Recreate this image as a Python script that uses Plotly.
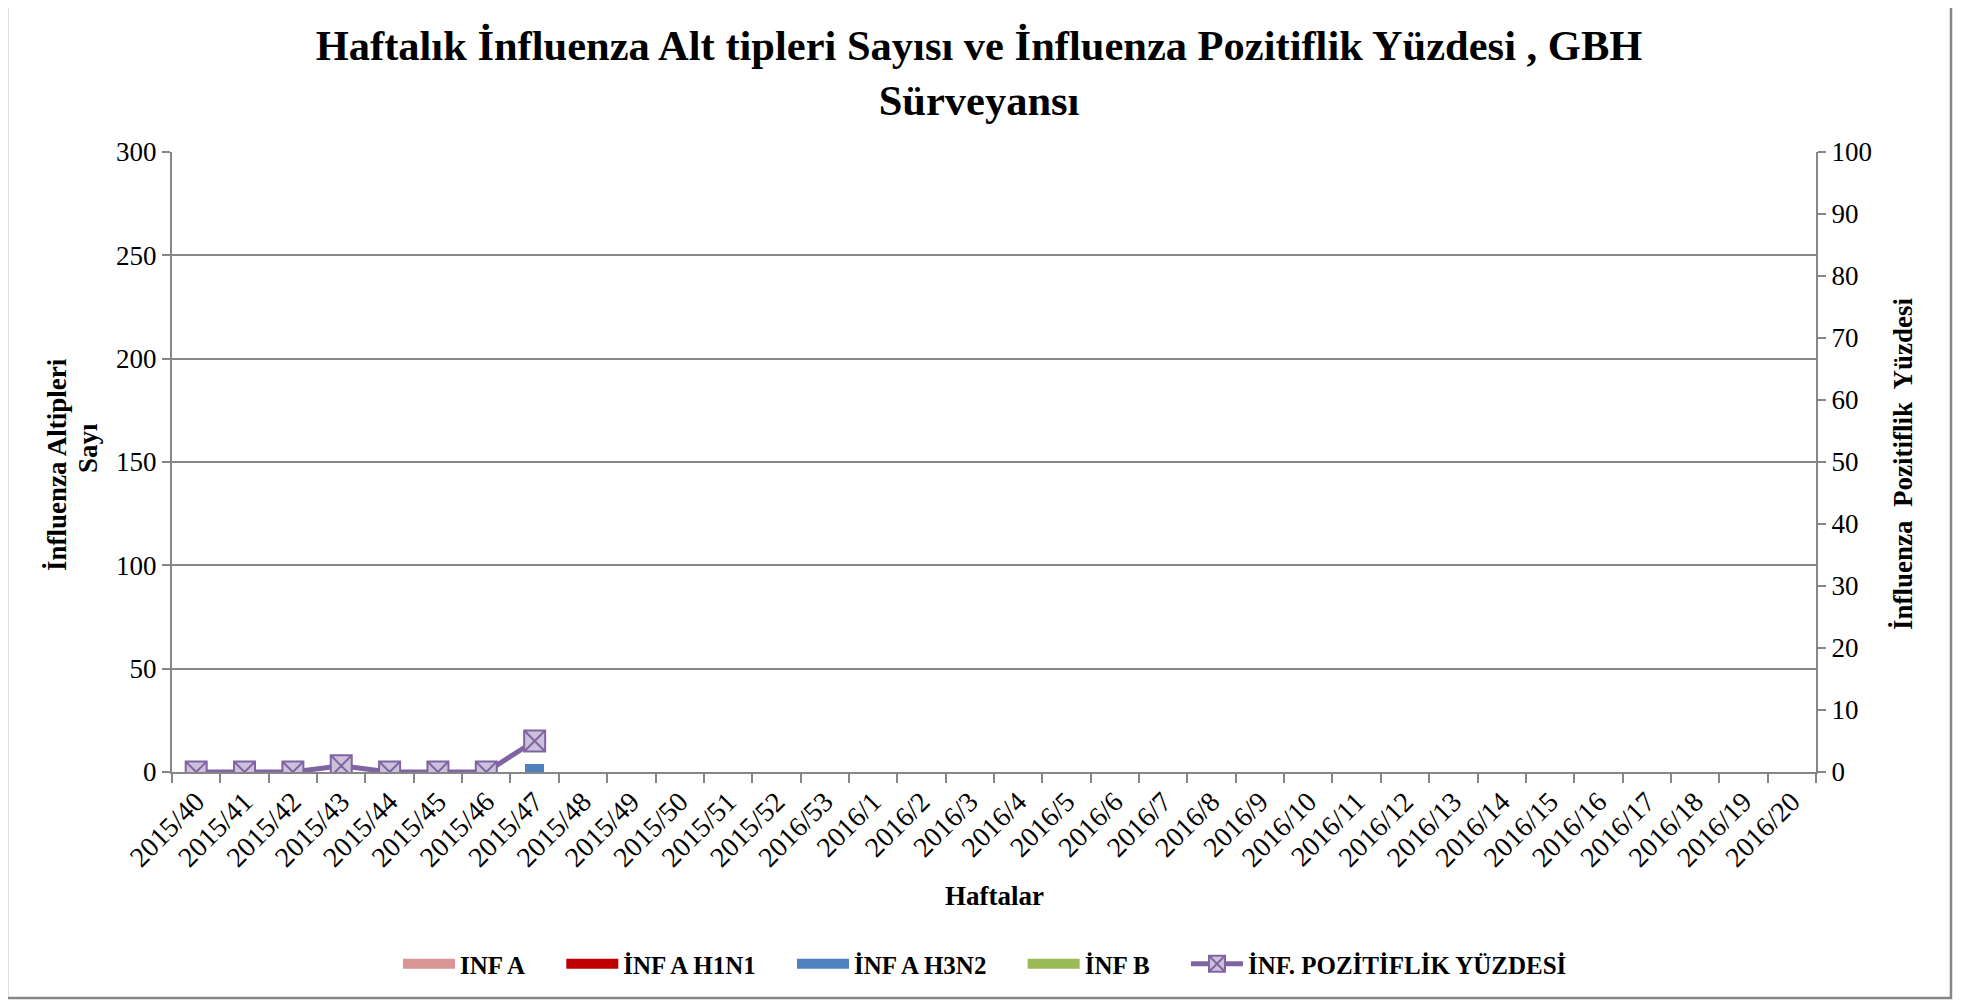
import plotly.graph_objects as go

weeks = ["2015/40", "2015/41", "2015/42", "2015/43", "2015/44", "2015/45", "2015/46", "2015/47",
         "2015/48", "2015/49", "2015/50", "2015/51", "2015/52", "2016/53",
         "2016/1", "2016/2", "2016/3", "2016/4", "2016/5", "2016/6", "2016/7", "2016/8", "2016/9",
         "2016/10", "2016/11", "2016/12", "2016/13", "2016/14", "2016/15", "2016/16", "2016/17",
         "2016/18", "2016/19", "2016/20"]

inf_a = [0, 0, 0, 0, 0, 0, 0, 0]
inf_a_h1n1 = [0, 0, 0, 0, 0, 0, 0, 0]
inf_a_h3n2 = [0, 0, 0, 0, 0, 0, 0, 4]
inf_b = [0, 0, 0, 0, 0, 0, 0, 0]
pozitiflik = [0, 0, 0, 1, 0, 0, 0, 5]

FONT = "Liberation Serif"
GRAY = "#868686"
NB = "\u00a0"

def pad(vals):
    return vals + [None] * (len(weeks) - len(vals))

# page body has an 8px margin: convert screen pixel targets to figure pixels
OFF = 8
W, H = 1973 - OFF, 1000 - OFF
L, R, T, B = 172 - OFF, 1816 - OFF, 152 - OFF, 772 - OFF
pw, ph = R - L, B - T

def px(x):
    return (x - OFF - L) / pw

def py(y):
    return (B - (y - OFF)) / ph

fig = go.Figure()
bar_specs = [
    ("INF A", inf_a, "#D99694"),
    ("İNF A H1N1", inf_a_h1n1, "#C00000"),
    ("İNF A H3N2", inf_a_h3n2, "#4F81BD"),
    ("İNF B", inf_b, "#9BBB59"),
]
for i, (name, vals, color) in enumerate(bar_specs):
    grp = "g%d" % i
    fig.add_trace(go.Bar(x=weeks, y=pad(vals), name=name, marker_color=color,
                         marker_line_width=0, width=0.4, showlegend=False,
                         legendgroup=grp))
    # legend swatch drawn as a wide rectangle, like the original
    fig.add_trace(go.Scatter(x=[None], y=[None], mode="lines", name="<b>" + name + "</b>" + NB * 5,
                             line=dict(color=color, width=11), legendgroup=grp,
                             hoverinfo="skip"))

fig.add_trace(go.Scatter(
    x=weeks, y=pad(pozitiflik), name="<b>İNF. POZİTİFLİK YÜZDESİ</b>", yaxis="y2",
    mode="lines+markers",
    line=dict(color="#8064A2", width=5),
    marker=dict(symbol="square-x", size=21, color="#CCC1DA",
                line=dict(color="#8064A2", width=2)),
))

fig.update_layout(
    width=W, height=H,
    margin=dict(l=L, r=W - R, t=T, b=H - B, autoexpand=False),
    paper_bgcolor="white", plot_bgcolor="white",
    barmode="stack",
    font=dict(family=FONT, color="black"),
    title=dict(
        text="<b>Haftalık İnfluenza Alt tipleri Sayısı ve İnfluenza Pozitiflik Yüzdesi , GBH<br>Sürveyansı</b>",
        x=(979 - OFF) / W, xanchor="center", xref="container",
        y=1 - 52 / H, yanchor="middle", yref="container",
        font=dict(family=FONT, size=42.5, color="black"),
    ),
    xaxis=dict(
        type="category", categoryorder="array", categoryarray=weeks,
        range=[-0.5, len(weeks) - 0.5],
        tickson="boundaries", ticks="outside", ticklen=9, tickwidth=2, tickcolor=GRAY,
        showline=True, linecolor=GRAY, linewidth=2, showgrid=False,
        tickangle=-45, tickfont=dict(family=FONT, size=28, color="black"),
    ),
    yaxis=dict(
        range=[0, 300], dtick=50, tick0=0,
        ticks="outside", ticklen=8, tickwidth=2, tickcolor=GRAY,
        showline=True, linecolor=GRAY, linewidth=2,
        showgrid=True, gridcolor=GRAY, gridwidth=1.5, zeroline=False,
        tickfont=dict(family=FONT, size=27, color="black"),
    ),
    yaxis2=dict(
        range=[0, 100], dtick=10, tick0=0, overlaying="y", side="right",
        ticks="outside", ticklen=8, tickwidth=2, tickcolor=GRAY,
        showline=True, linecolor=GRAY, linewidth=2,
        showgrid=False, zeroline=False,
        tickfont=dict(family=FONT, size=27, color="black"),
    ),
    legend=dict(
        orientation="h", x=(398 - OFF) / W, xanchor="left", xref="container",
        y=1 - (964 - OFF) / H, yanchor="middle", yref="container",
        font=dict(family=FONT, size=25, color="black"),
        itemwidth=52, traceorder="normal",
    ),
    showlegend=True,
)

annotations = [
    dict(text="<b>İnfluenza Altipleri</b>", x=px(57), y=py(465), xref="paper", yref="paper",
         textangle=-90, showarrow=False, font=dict(family=FONT, size=27, color="black"),
         xanchor="center", yanchor="middle"),
    dict(text="<b>Sayı</b>", x=px(88), y=py(448), xref="paper", yref="paper",
         textangle=-90, showarrow=False, font=dict(family=FONT, size=27, color="black"),
         xanchor="center", yanchor="middle"),
    dict(text="<b>İnfluenza  Pozitiflik  Yüzdesi</b>", x=px(1903), y=py(463), xref="paper", yref="paper",
         textangle=-90, showarrow=False, font=dict(family=FONT, size=27, color="black"),
         xanchor="center", yanchor="middle"),
    dict(text="<b>Haftalar</b>", x=px(994), y=py(896), xref="paper", yref="paper",
         showarrow=False, font=dict(family=FONT, size=27, color="black"),
         xanchor="center", yanchor="middle"),
]
fig.update_layout(annotations=annotations)

fig.add_shape(type="rect", xref="paper", yref="paper",
              x0=px(7), x1=px(1951), y0=py(998), y1=py(2),
              line=dict(color=GRAY, width=2.5), fillcolor="rgba(0,0,0,0)", layer="below")

fig.write_html("out.html")
